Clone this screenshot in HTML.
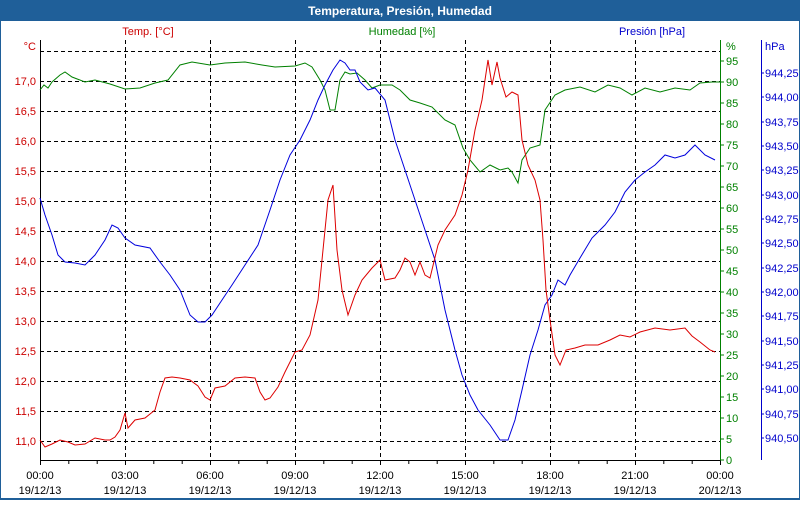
<!DOCTYPE html>
<html><head><meta charset="utf-8"><style>
body{margin:0;width:800px;height:500px;overflow:hidden;background:#fff;font-family:"Liberation Sans",sans-serif}
</style></head><body>
<svg width="800" height="500" xmlns="http://www.w3.org/2000/svg" font-family="Liberation Sans, sans-serif" font-size="11">
<rect x="0" y="0" width="800" height="500" fill="#1f5f99"/>
<rect x="1" y="21" width="798" height="477" fill="#fff"/>
<text x="400" y="15" text-anchor="middle" fill="#fff" font-weight="bold" font-size="12">Temperatura, Presión, Humedad</text>
<g stroke="#000" stroke-dasharray="4,3" stroke-width="1">
<line x1="40" x2="720" y1="51.5" y2="51.5"/><line x1="40" x2="720" y1="81.5" y2="81.5"/><line x1="40" x2="720" y1="111.5" y2="111.5"/><line x1="40" x2="720" y1="141.5" y2="141.5"/><line x1="40" x2="720" y1="171.5" y2="171.5"/><line x1="40" x2="720" y1="201.5" y2="201.5"/><line x1="40" x2="720" y1="231.5" y2="231.5"/><line x1="40" x2="720" y1="261.5" y2="261.5"/><line x1="40" x2="720" y1="291.5" y2="291.5"/><line x1="40" x2="720" y1="321.5" y2="321.5"/><line x1="40" x2="720" y1="351.5" y2="351.5"/><line x1="40" x2="720" y1="381.5" y2="381.5"/><line x1="40" x2="720" y1="411.5" y2="411.5"/><line x1="40" x2="720" y1="441.5" y2="441.5"/>
<line x1="125.5" x2="125.5" y1="40" y2="460"/><line x1="210.5" x2="210.5" y1="40" y2="460"/><line x1="295.5" x2="295.5" y1="40" y2="460"/><line x1="380.5" x2="380.5" y1="40" y2="460"/><line x1="465.5" x2="465.5" y1="40" y2="460"/><line x1="550.5" x2="550.5" y1="40" y2="460"/><line x1="635.5" x2="635.5" y1="40" y2="460"/>
</g>
<line x1="40.5" x2="40.5" y1="40" y2="460" stroke="#000"/>
<line x1="40" x2="720" y1="460.5" y2="460.5" stroke="#000"/>
<line x1="720.5" x2="720.5" y1="40" y2="461" stroke="#008000"/>
<line x1="761.5" x2="761.5" y1="40" y2="460" stroke="#0000cc"/>
<g stroke="#000">
<path d="M40.5 460v5M68.8 460v4M97.2 460v4M125.5 460v5M153.8 460v4M182.2 460v4M210.5 460v5M238.8 460v4M267.2 460v4M295.5 460v5M323.8 460v4M352.2 460v4M380.5 460v5M408.8 460v4M437.2 460v4M465.5 460v5M493.8 460v4M522.2 460v4M550.5 460v5M578.8 460v4M607.2 460v4M635.5 460v5M663.8 460v4M692.2 460v4M720.5 460v5"/>
</g>
<g fill="#000" text-anchor="middle">
<text x="40" y="479">00:00</text><text x="40" y="494">19/12/13</text>
<text x="125" y="479">03:00</text><text x="125" y="494">19/12/13</text>
<text x="210" y="479">06:00</text><text x="210" y="494">19/12/13</text>
<text x="295" y="479">09:00</text><text x="295" y="494">19/12/13</text>
<text x="380" y="479">12:00</text><text x="380" y="494">19/12/13</text>
<text x="465" y="479">15:00</text><text x="465" y="494">19/12/13</text>
<text x="550" y="479">18:00</text><text x="550" y="494">19/12/13</text>
<text x="635" y="479">21:00</text><text x="635" y="494">19/12/13</text>
<text x="720" y="479">00:00</text><text x="720" y="494">20/12/13</text>
</g>
<g fill="#cc0000" text-anchor="end">
<text x="36" y="50">°C</text>
<text x="36" y="85">17,0</text><text x="36" y="115">16,5</text><text x="36" y="145">16,0</text><text x="36" y="175">15,5</text><text x="36" y="205">15,0</text><text x="36" y="235">14,5</text><text x="36" y="265">14,0</text><text x="36" y="295">13,5</text><text x="36" y="325">13,0</text><text x="36" y="355">12,5</text><text x="36" y="385">12,0</text><text x="36" y="415">11,5</text><text x="36" y="445">11,0</text>
</g>
<text x="148" y="35" fill="#cc0000" text-anchor="middle">Temp. [°C]</text>
<text x="402" y="35" fill="#008000" text-anchor="middle">Humedad [%]</text>
<text x="652" y="35" fill="#0000cc" text-anchor="middle">Presión [hPa]</text>
<g fill="#008000" stroke="#008000">
<path d="M720 460h4M720 439h4M720 418h4M720 397h4M720 376h4M720 355h4M720 334h4M720 313h4M720 292h4M720 271h4M720 250h4M720 229h4M720 208h4M720 187h4M720 166h4M720 145h4M720 124h4M720 103h4M720 82h4M720 61h4"/>
</g>
<g fill="#008000">
<text x="726" y="50">%</text>
<text x="726" y="464">0</text><text x="726" y="443">5</text><text x="726" y="422">10</text><text x="726" y="401">15</text><text x="726" y="380">20</text><text x="726" y="359">25</text><text x="726" y="338">30</text><text x="726" y="317">35</text><text x="726" y="296">40</text><text x="726" y="275">45</text><text x="726" y="254">50</text><text x="726" y="233">55</text><text x="726" y="212">60</text><text x="726" y="191">65</text><text x="726" y="170">70</text><text x="726" y="149">75</text><text x="726" y="128">80</text><text x="726" y="107">85</text><text x="726" y="86">90</text><text x="726" y="65">95</text>
</g>
<g fill="#0000cc">
<text x="765" y="50">hPa</text>
<text x="765" y="77">944,25</text><text x="765" y="101">944,00</text><text x="765" y="126">943,75</text><text x="765" y="150">943,50</text><text x="765" y="174">943,25</text><text x="765" y="199">943,00</text><text x="765" y="223">942,75</text><text x="765" y="247">942,50</text><text x="765" y="272">942,25</text><text x="765" y="296">942,00</text><text x="765" y="320">941,75</text><text x="765" y="345">941,50</text><text x="765" y="369">941,25</text><text x="765" y="393">941,00</text><text x="765" y="418">940,75</text><text x="765" y="442">940,50</text>
<path d="M761 73h3M761 97h3M761 122h3M761 146h3M761 170h3M761 195h3M761 219h3M761 243h3M761 268h3M761 292h3M761 316h3M761 341h3M761 365h3M761 389h3M761 414h3M761 438h3" stroke="#0000cc"/>
</g>
<polyline fill="none" stroke="#008000" points="40,90 44,85 48,88 52,82 60,75 65,72 72,77 85,82 95,80 110,84 125,89 140,88 155,83 168,80 180,65 192,62 210,65 225,63 245,62 262,65 275,67 295,66 305,63 312,67 320,80 325,90 330,110 335,110 340,80 345,72 350,74 357,73 365,80 372,88 380,85 392,85 400,90 410,100 420,103 432,107 445,120 455,125 463,148 470,160 480,172 490,165 500,170 508,168 512,172 518,183 522,160 530,148 540,145 545,110 555,95 565,90 580,87 595,92 608,85 620,88 632,95 645,88 660,92 675,88 690,90 700,83 712,82 720,82"/>
<polyline fill="none" stroke="#0000dd" points="40,198 45,215 52,235 58,255 65,262 75,263 85,265 95,255 105,240 112,225 118,228 125,238 135,245 150,248 160,262 170,275 180,290 190,315 198,322 205,322 212,315 222,300 232,285 245,265 258,245 270,210 280,180 290,155 300,140 310,120 318,100 325,85 333,70 340,60 345,63 350,70 355,70 360,82 368,90 375,88 385,100 395,140 405,170 415,200 425,230 435,260 445,310 455,350 462,375 470,395 478,410 490,425 500,440 508,440 515,420 522,390 530,355 538,330 545,305 552,295 558,280 565,285 570,275 580,258 592,238 605,225 615,212 625,192 635,180 645,172 655,165 665,155 675,158 685,155 695,145 705,155 715,160"/>
<polyline fill="none" stroke="#dd0000" points="40,440 45,447 52,444 60,440 68,442 75,445 85,444 95,438 105,440 110,440 115,437 120,430 125,413 128,428 135,420 145,418 155,410 160,392 165,378 172,377 180,378 190,380 198,386 205,397 210,400 215,388 225,386 235,378 245,377 255,378 260,392 265,400 270,398 278,387 285,372 295,352 302,350 310,335 318,300 322,260 328,200 333,185 337,250 342,290 348,315 355,295 362,280 372,268 380,260 385,280 395,278 400,270 405,258 410,262 415,275 420,262 425,275 430,278 438,245 445,230 455,215 462,195 468,170 475,130 482,100 488,60 492,85 497,62 500,78 506,97 512,92 518,95 522,140 528,165 535,180 540,200 543,240 546,290 550,320 555,355 560,365 566,350 575,348 585,345 598,345 610,340 620,335 630,337 640,332 655,328 670,330 685,328 692,336 700,342 710,350 715,352"/>
</svg>
</body></html>
